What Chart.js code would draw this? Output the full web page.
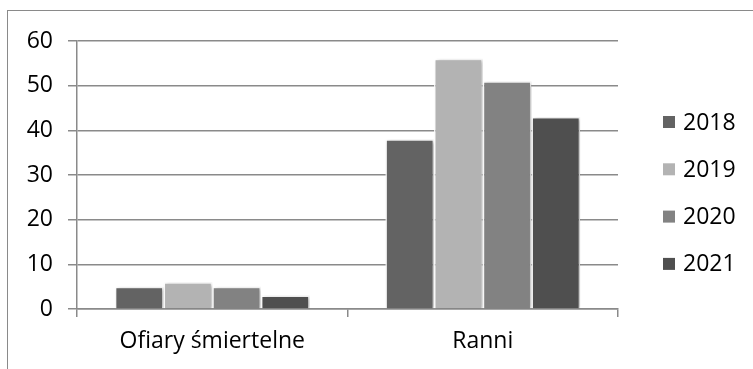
<!DOCTYPE html>
<html lang="pl">
<head>
    <meta charset="UTF-8">
    <title>Ofiary i ranni</title>
    <script src="https://cdn.jsdelivr.net/npm/chart.js"></script>
    <style>
        html, body { margin: 0; padding: 0; background: #fff; }
        .frame {
            position: absolute;
            left: 7px;
            top: 10px;
            width: 760px;
            height: 380px;
            border-top: 1.5px solid #8a8a8a;
            border-left: 1.5px solid #8a8a8a;
        }
        .chart-container {
            position: absolute;
            left: 0;
            top: 0;
            width: 753px;
            height: 369px;
        }
    </style>
</head>
<body>
    <div class="frame"></div>
    <div class="chart-container">
        <canvas id="injuryChart"></canvas>
    </div>

    <script>
        // Data
        const categories = ['Ofiary śmiertelne', 'Ranni'];
        const years = ['2018', '2019', '2020', '2021'];
        const values2018 = [5, 38];
        const values2019 = [6, 56];
        const values2020 = [5, 51];
        const values2021 = [3, 43];
        const yTicks = [0, 10, 20, 30, 40, 50, 60];

        const colors = ['#636363', '#b3b3b3', '#828282', '#4f4f4f'];
        const gridColor = '#8a8a8a';
        const fontFamily = '"Open Sans", sans-serif';
        const fontSize = 23;

        // soft shadow behind bars
        const barShadow = {
            id: 'barShadow',
            beforeDatasetsDraw(chart) {
                const ctx = chart.ctx;
                ctx.save();
                ctx.shadowColor = 'rgba(0, 0, 0, 0.28)';
                ctx.shadowBlur = 4;
                ctx.shadowOffsetX = 2;
                ctx.shadowOffsetY = 1;
            },
            afterDatasetsDraw(chart) {
                chart.ctx.restore();
            }
        };

        // legend on the right, drawn from the datasets
        const sideLegend = {
            id: 'sideLegend',
            afterDraw(chart) {
                const ctx = chart.ctx;
                ctx.save();
                ctx.font = fontSize + 'px ' + fontFamily;
                ctx.textBaseline = 'middle';
                ctx.textAlign = 'left';
                chart.data.datasets.forEach((ds, i) => {
                    const cy = 122 + i * 47.3;
                    ctx.fillStyle = ds.backgroundColor;
                    ctx.fillRect(663, cy - 6, 12, 12);
                    ctx.fillStyle = '#000';
                    ctx.fillText(ds.label, 683, cy + 1);
                });
                ctx.restore();
            }
        };

        const seriesValues = [values2018, values2019, values2020, values2021];

        new Chart(document.getElementById('injuryChart'), {
            type: 'bar',
            data: {
                labels: categories,
                datasets: years.map((y, i) => ({
                    label: y,
                    data: seriesValues[i],
                    backgroundColor: colors[i],
                    borderColor: '#ffffff',
                    borderWidth: 1.5,
                    categoryPercentage: 0.72,
                    barPercentage: 1.0
                }))
            },
            options: {
                responsive: true,
                maintainAspectRatio: false,
                animation: false,
                devicePixelRatio: 1,
                layout: {
                    padding: { top: 41, right: 135, bottom: 0, left: 0 }
                },
                plugins: {
                    legend: { display: false },
                    tooltip: { enabled: false }
                },
                scales: {
                    x: {
                        offset: true,
                        grid: {
                            offset: true,
                            drawOnChartArea: false,
                            color: gridColor,
                            lineWidth: 1.5,
                            tickLength: 8
                        },
                        border: { color: gridColor, width: 1.5 },
                        ticks: {
                            color: '#000',
                            padding: 11,
                            font: { family: fontFamily, size: fontSize }
                        },
                        afterFit(scale) { scale.height = 60; }
                    },
                    y: {
                        min: 0,
                        max: 60,
                        afterBuildTicks(scale) {
                            scale.ticks = yTicks.map(v => ({ value: v }));
                        },
                        grid: {
                            color: gridColor,
                            lineWidth: 1.5,
                            tickLength: 9
                        },
                        border: { color: gridColor, width: 1.5 },
                        ticks: {
                            color: '#000',
                            padding: 15,
                            font: { family: fontFamily, size: fontSize }
                        },
                        afterFit(scale) { scale.width = 77; }
                    }
                }
            },
            plugins: [barShadow, sideLegend]
        });
    </script>
</body>
</html>
